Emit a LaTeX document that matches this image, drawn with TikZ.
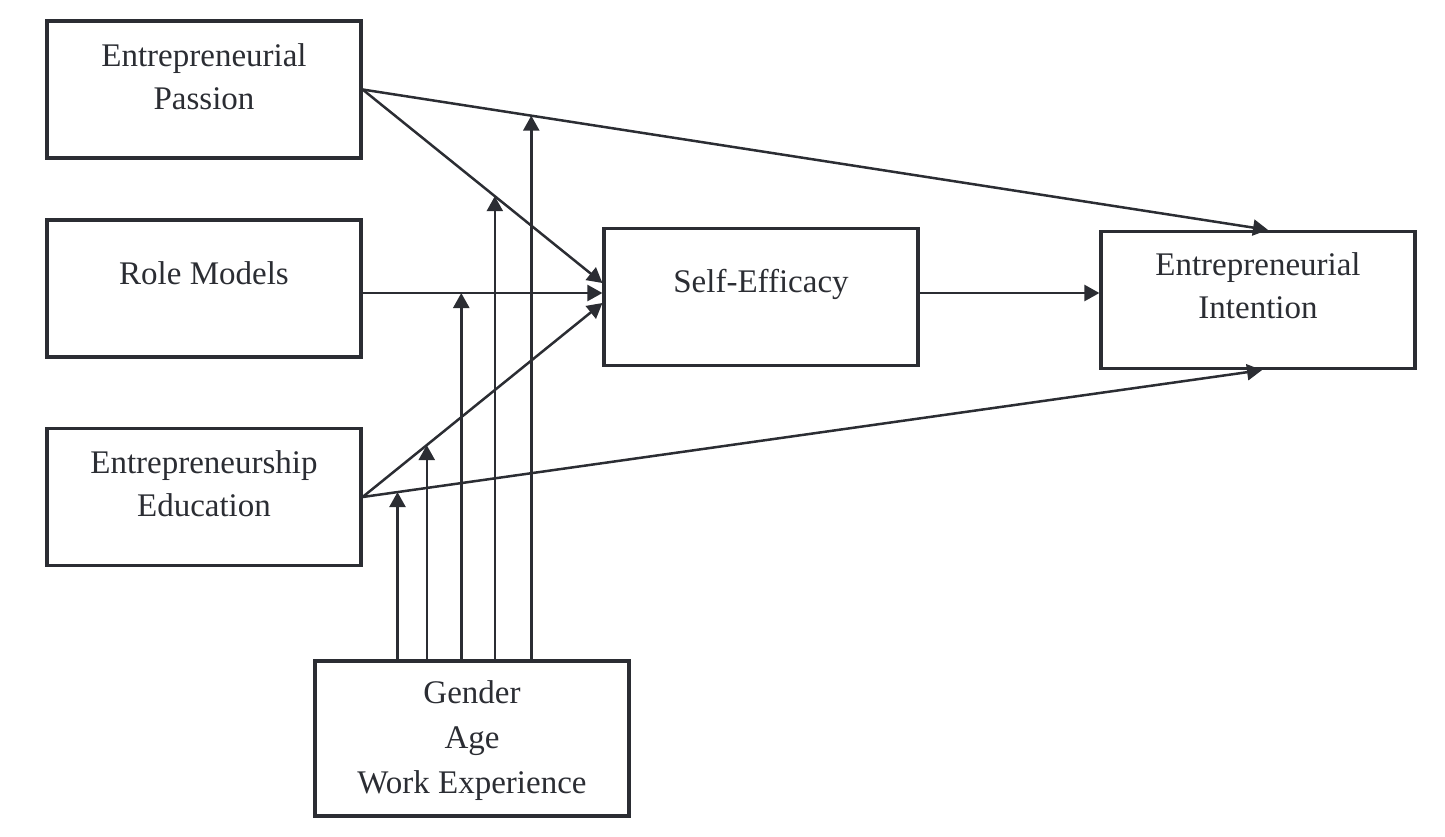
\documentclass[tikz,border=0pt]{standalone}
\usepackage{fontspec}
\setmainfont{Liberation Serif}
\usetikzlibrary{arrows.meta,calc}
\definecolor{ink}{RGB}{43,45,51}
\tikzset{
  box/.style={draw=ink, line width=1.6pt, minimum width=157pt, minimum height=68.5pt, inner sep=0pt},
  txt/.style={text=ink, align=center, font=\fontsize{16.5}{21.5}\selectfont, inner sep=0pt},
  conn/.style={draw=ink, line width=1.25pt, -{Triangle[length=7.5pt,width=8pt]}}
}
\begin{document}
\begin{tikzpicture}[x=0.5pt,y=-0.5pt]
\useasboundingbox (0,0) rectangle (1445,836);
% boxes
\node[box] (pas) at (204,89.5) {};
\node[box] (rm) at (204,288.5) {};
\node[box] (edu) at (204,497) {};
\node[box] (se) at (761,297) {};
\node[box] (ei) at (1258,300) {};
\node[box, minimum height=77.5pt] (gen) at (472,738.5) {};
% texts
\node[txt] (tpas) at ($(pas.center)+(0,-13)$) {Entrepreneurial\\Passion};
\node[txt] (trm) at ($(rm.center)+(0,-15)$) {Role Models};
\node[txt] (tedu) at ($(edu.center)+(0,-13)$) {Entrepreneurship\\Education};
\node[txt] (tse) at ($(se.center)+(0,-13)$) {Self-Efficacy};
\node[txt] (tei) at ($(ei.center)+(0,-14)$) {Entrepreneurial\\Intention};
\node[txt, font=\fontsize{16.5}{22.5}\selectfont] (tgen) at ($(gen.center)+(0,2)$) {Gender\\Age\\Work Experience};
% anchor coordinates
\coordinate (seA) at ($(se.west)+(0,-14)$);
\coordinate (seB) at ($(se.west)+(0,-4)$);
\coordinate (seC) at ($(se.west)+(0,6)$);
\coordinate (rmA) at (rm.east |- seB);
\coordinate (eiN) at ($(ei.north)+(10,0)$);
\coordinate (eiS) at ($(ei.south)+(4,0)$);
\coordinate (seE) at ($(se.east)+(0,-4)$);
\coordinate (eiW) at (ei.west |- seE);
% main paths
\draw[conn] (pas.east) -- (seA);
\draw[conn] (rmA) -- (seB);
\draw[conn] (edu.east) -- (seC);
\draw[conn] (pas.east) -- (eiN);
\draw[conn] (edu.east) -- (eiS);
\draw[conn] (seE) -- (eiW);
% moderator targets
\coordinate (m1) at ($(edu.east)!0.0388!(eiS)$);
\coordinate (m2) at ($(edu.east)!0.2675!(seC)$);
\coordinate (m3) at ($(rmA)!0.4115!(seB)$);
\coordinate (m4) at ($(pas.east)!0.5514!(seA)$);
\coordinate (m5) at ($(pas.east)!0.1863!(eiN)$);
\foreach \m in {m1,m2,m3,m4,m5}{
  \draw[conn] (gen.north -| \m) -- (\m);
}
\end{tikzpicture}
\end{document}
